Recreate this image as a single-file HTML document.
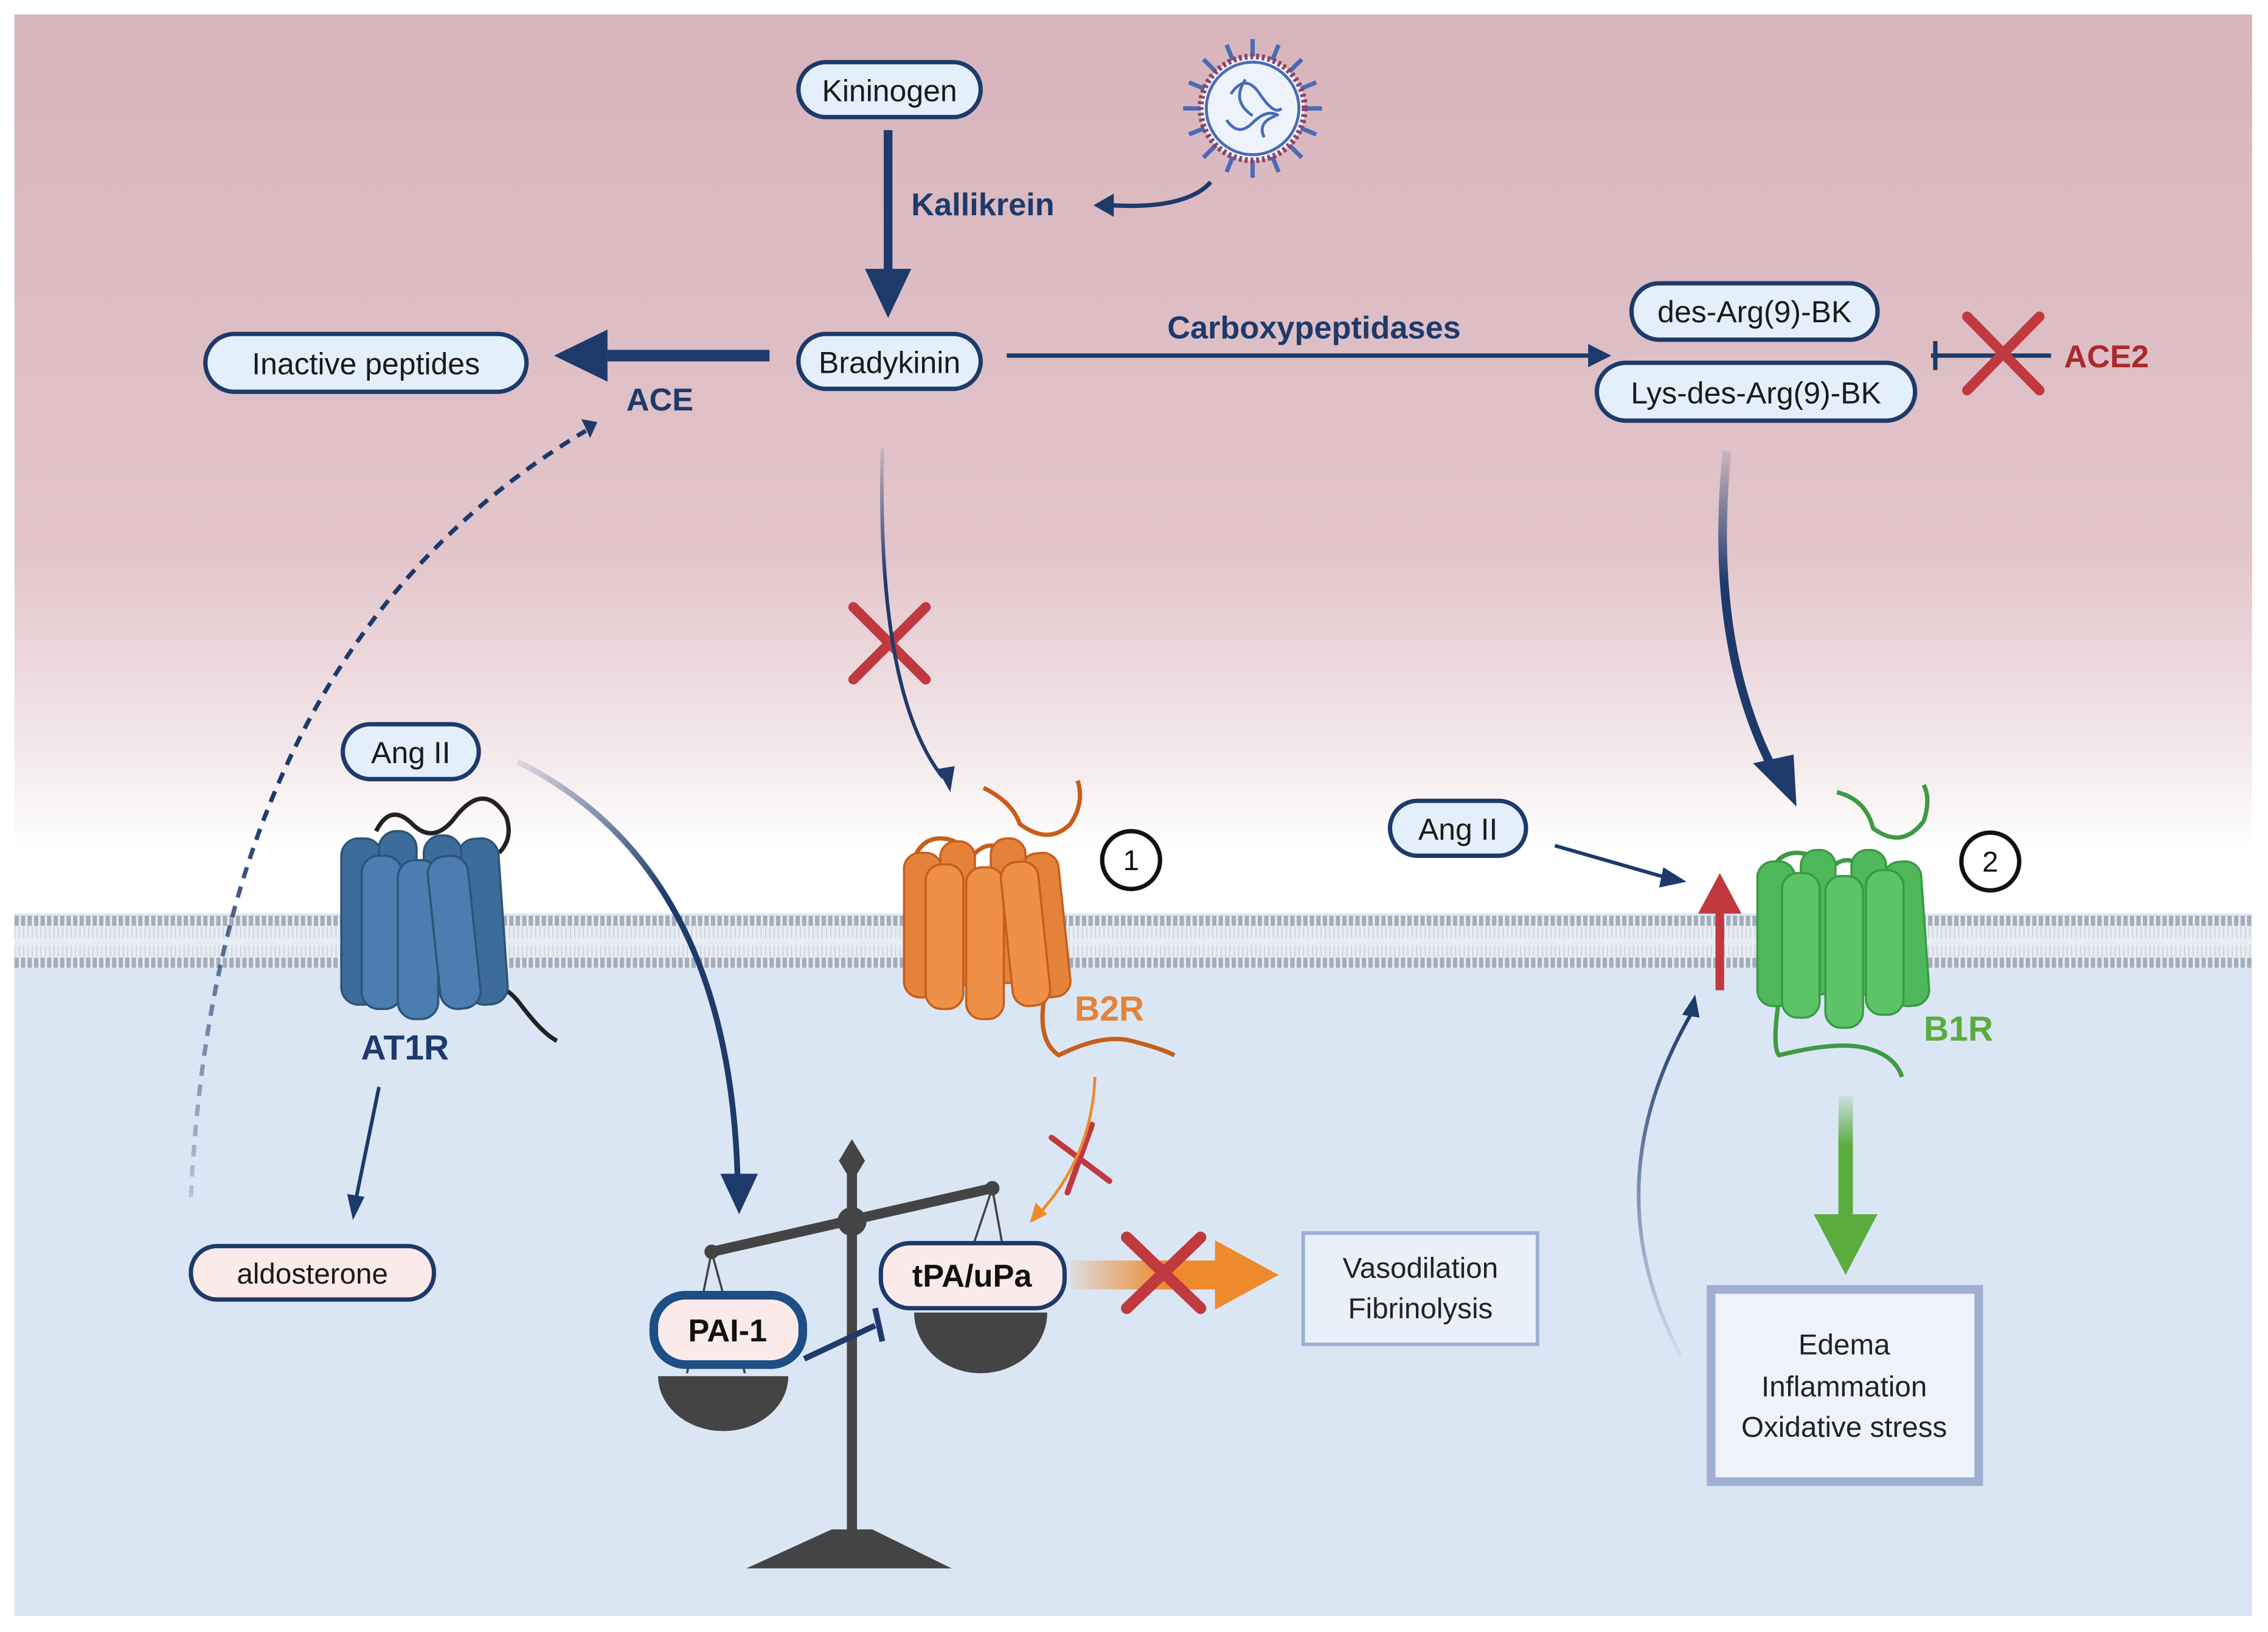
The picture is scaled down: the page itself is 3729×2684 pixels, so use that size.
<!DOCTYPE html>
<html><head><meta charset="utf-8"><style>
html,body{margin:0;padding:0;background:#fff}
svg{display:block}
text{font-family:"Liberation Sans",sans-serif}
</style></head><body>
<svg width="3729" height="2684" viewBox="0 0 1568 1129" preserveAspectRatio="none" xmlns="http://www.w3.org/2000/svg">
<defs>
<linearGradient id="bg" x1="0" y1="0" x2="0" y2="1">
<stop offset="0" stop-color="#d8b4bc"/>
<stop offset="0.6" stop-color="#e2c5cb"/>
<stop offset="0.83" stop-color="#f4eaec"/>
<stop offset="0.93" stop-color="#ffffff"/>
<stop offset="1" stop-color="#ffffff"/>
</linearGradient>
<linearGradient id="fadeL" x1="0" y1="1" x2="0" y2="0"><stop offset="0" stop-color="#1d3a6b" stop-opacity="0.05"/><stop offset="1" stop-color="#1d3a6b"/></linearGradient>
<linearGradient id="dashG" gradientUnits="userSpaceOnUse" x1="0" y1="830" x2="0" y2="290"><stop offset="0" stop-color="#1d3a6b" stop-opacity="0.2"/><stop offset="0.5" stop-color="#1d3a6b"/><stop offset="1" stop-color="#1d3a6b"/></linearGradient>
<linearGradient id="fadeD" x1="0" y1="0" x2="0" y2="1"><stop offset="0" stop-color="#1d3a6b" stop-opacity="0.1"/><stop offset="0.4" stop-color="#1d3a6b"/></linearGradient>
<linearGradient id="fadeG" x1="0" y1="0" x2="0" y2="1"><stop offset="0" stop-color="#5aac3f" stop-opacity="0.1"/><stop offset="0.4" stop-color="#5aac3f"/></linearGradient>
<linearGradient id="fadeO" x1="0" y1="0" x2="1" y2="0"><stop offset="0" stop-color="#ec8a2c" stop-opacity="0.1"/><stop offset="0.6" stop-color="#ec8a2c"/></linearGradient>
<linearGradient id="angG" x1="0" y1="0" x2="1" y2="1"><stop offset="0" stop-color="#1d3a6b" stop-opacity="0.1"/><stop offset="0.5" stop-color="#1d3a6b"/></linearGradient>
</defs>
<rect x="10" y="10" width="1547" height="622" fill="url(#bg)"/>
<rect x="10" y="632" width="1547" height="486" fill="#dbe6f5"/>
<rect x="10" y="634" width="1547" height="36" fill="#e8edf4"/>
<line x1="10" y1="637" x2="1557" y2="637" stroke="#a5adbb" stroke-width="7" stroke-dasharray="3 1.5"/>
<line x1="10" y1="666" x2="1557" y2="666" stroke="#a5adbb" stroke-width="7" stroke-dasharray="3 1.5"/>
<line x1="10" y1="645" x2="1557" y2="645" stroke="#c6ccd6" stroke-width="8" stroke-dasharray="0.6 2.4"/>
<line x1="10" y1="658" x2="1557" y2="658" stroke="#c6ccd6" stroke-width="8" stroke-dasharray="0.6 2.4"/>

<g font-size="21" fill="#1a1a1a" text-anchor="middle">
<rect x="552" y="43" width="126" height="38" rx="19" fill="#e3effa" stroke="#1d3a6b" stroke-width="3"/>
<text x="615" y="70">Kininogen</text>
<rect x="552" y="231" width="126" height="38" rx="19" fill="#e3effa" stroke="#1d3a6b" stroke-width="3"/>
<text x="615" y="258">Bradykinin</text>
<rect x="142" y="231" width="222" height="40" rx="20" fill="#e3effa" stroke="#1d3a6b" stroke-width="3"/>
<text x="253" y="259">Inactive peptides</text>
<rect x="1128" y="196" width="170" height="39" rx="19" fill="#e3effa" stroke="#1d3a6b" stroke-width="3"/>
<text x="1213" y="223">des-Arg(9)-BK</text>
<rect x="1104" y="251" width="220" height="40" rx="20" fill="#e3effa" stroke="#1d3a6b" stroke-width="3"/>
<text x="1214" y="279">Lys-des-Arg(9)-BK</text>
<rect x="237" y="501" width="94" height="38" rx="19" fill="#e3effa" stroke="#1d3a6b" stroke-width="3"/>
<text x="284" y="528">Ang II</text>
<rect x="961" y="554" width="94" height="38" rx="19" fill="#e3effa" stroke="#1d3a6b" stroke-width="3"/>
<text x="1008" y="581">Ang II</text>
<rect x="132" y="862" width="168" height="37" rx="18" fill="#fbeaea" stroke="#1d3a6b" stroke-width="3"/>
<text x="216" y="888" font-size="20">aldosterone</text>
</g>

<g fill="#1d3a6b" stroke="#1d3a6b">
<line x1="614" y1="90" x2="614" y2="190" stroke-width="6"/>
<polygon points="598,186 630,186 614,220" stroke="none"/>
<line x1="532" y1="246" x2="420" y2="246" stroke-width="8"/>
<polygon points="420,228 420,264 383,246" stroke="none"/>
<line x1="696" y1="246" x2="1100" y2="246" stroke-width="3"/>
<polygon points="1098,238 1098,254 1114,246" stroke="none"/>
<path d="M837 126 Q820 145 768 142" fill="none" stroke-width="3"/>
<polygon points="770,134 770,150 756,142" stroke="none"/>
<polygon points="402,290 413,292 408,303" stroke="none"/>
<line x1="1335" y1="246" x2="1418" y2="246" stroke-width="3"/>
<line x1="1338" y1="236" x2="1338" y2="256" stroke-width="3"/>
</g>
<path d="M132 828 Q150 450 405 298" fill="none" stroke="url(#dashG)" stroke-width="3" stroke-dasharray="8 6"/>
<g font-weight="bold" font-size="22" fill="#1d3a6b">
<text x="630" y="149">Kallikrein</text>
<text x="433" y="284">ACE</text>
<text x="807" y="234">Carboxypeptidases</text>
<text x="1427" y="254" fill="#a82a2a">ACE2</text>
</g>

<g transform="translate(866,75)">
<g stroke="#4a6bb5" stroke-width="3">
<line x1="0" y1="-48" x2="0" y2="48"/><line x1="-48" y1="0" x2="48" y2="0"/>
<line x1="-34" y1="-34" x2="34" y2="34"/><line x1="-34" y1="34" x2="34" y2="-34"/>
<line x1="-18" y1="-44" x2="18" y2="44"/><line x1="-44" y1="-18" x2="44" y2="18"/>
<line x1="18" y1="-44" x2="-18" y2="44"/><line x1="-44" y1="18" x2="44" y2="-18"/>
</g>
<circle r="36" fill="#eef3fb" stroke="#8a4466" stroke-width="4" stroke-dasharray="2 2"/>
<circle r="32" fill="#eef3fb" stroke="#4a6bb5" stroke-width="2"/>
<path d="M-15 -10 q10 -15 20 0 t15 10 M-18 8 q8 12 18 2 t18 -5 M-5 -20 q-10 15 5 25 M8 20 q-5 -10 8 -15" fill="none" stroke="#4a6bb5" stroke-width="2"/>
</g>

<g stroke="#c0393f" stroke-width="7" stroke-linecap="round">
<line x1="1360" y1="219" x2="1410" y2="270"/><line x1="1410" y1="219" x2="1360" y2="270"/>
<line x1="590" y1="420" x2="640" y2="470"/><line x1="640" y1="420" x2="590" y2="470"/>
<line x1="727" y1="787" x2="767" y2="817" stroke-width="4"/><line x1="755" y1="778" x2="738" y2="825" stroke-width="4"/>
</g>

<path d="M610 310 Q606 480 652 538" fill="none" stroke="url(#fadeD)" stroke-width="2.5"/>
<polygon points="648,532 660,530 657,548" fill="#1d3a6b"/>
<path d="M1194 312 Q1180 450 1230 540" fill="none" stroke="url(#fadeD)" stroke-width="6"/>
<polygon points="1212,528 1240,522 1242,558" fill="#1d3a6b"/>
<path d="M358 527 Q505 600 510 818" fill="none" stroke="url(#angG)" stroke-width="4"/>
<polygon points="498,812 524,812 511,840" fill="#1d3a6b"/>
<line x1="1075" y1="585" x2="1155" y2="608" stroke="#1d3a6b" stroke-width="2.5"/>
<polygon points="1150,600 1166,610 1147,614" fill="#1d3a6b"/>
<line x1="262" y1="752" x2="246" y2="830" stroke="#1d3a6b" stroke-width="2.5"/>
<polygon points="240,826 252,828 244,844" fill="#1d3a6b"/>
<path d="M1162 938 Q1100 820 1170 700" fill="none" stroke="url(#fadeL)" stroke-width="2.5"/>
<polygon points="1163,702 1175,704 1172,688" fill="#1d3a6b"/>
<line x1="1189" y1="685" x2="1189" y2="625" stroke="#c0393f" stroke-width="6"/>
<polygon points="1174,632 1204,632 1189,604" fill="#c0393f"/>
<path d="M757 745 Q755 800 718 840" fill="none" stroke="#ec8a2c" stroke-width="2"/>
<polygon points="712,846 716,832 724,840" fill="#ec8a2c"/>
<rect x="1271" y="758" width="10" height="86" fill="url(#fadeG)"/>
<polygon points="1254,840 1298,840 1276,882" fill="#5aac3f"/>
<rect x="740" y="872" width="110" height="20" fill="url(#fadeO)"/>
<polygon points="840,858 840,906 884,882" fill="#ec8a2c"/>
<line x1="779" y1="856" x2="830" y2="905" stroke="#c0393f" stroke-width="8" stroke-linecap="round"/><line x1="830" y1="856" x2="779" y2="905" stroke="#c0393f" stroke-width="8" stroke-linecap="round"/>

<g>
<path d="M260 575 q10 -20 25 -5 q15 15 30 -5 q20 -25 35 0 q5 15 -5 25" fill="none" stroke="#222" stroke-width="3"/>
<path d="M335 690 q10 -15 25 5 q15 20 25 25" fill="none" stroke="#222" stroke-width="3"/>
<g fill="#3c6d9a" stroke="#2c5478" stroke-width="1.5">
<rect x="236" y="580" width="28" height="115" rx="12"/>
<rect x="320" y="580" width="28" height="115" rx="12" transform="rotate(-4 334 640)"/>
<rect x="262" y="575" width="26" height="110" rx="12"/>
<rect x="293" y="578" width="26" height="110" rx="12"/>
<rect x="250" y="592" width="28" height="106" rx="12" fill="#4a7eb0"/>
<rect x="275" y="595" width="28" height="110" rx="12" fill="#4a7eb0"/>
<rect x="300" y="592" width="28" height="106" rx="12" fill="#4a7eb0" transform="rotate(-6 314 645)"/>
</g>
<text x="280" y="733" font-size="24" font-weight="bold" fill="#1d3a6b" text-anchor="middle">AT1R</text>
</g>
<g>
<path d="M680 545 q20 10 25 25 q20 15 35 0 q10 -15 5 -30 M630 600 q5 -20 20 -20 q15 0 20 15 q15 -20 30 0" fill="none" stroke="#c65e1c" stroke-width="3"/>
<path d="M722 690 q-5 30 10 40 q30 -15 50 -10 q20 5 30 10" fill="none" stroke="#c65e1c" stroke-width="3"/>
<g fill="#e4823a" stroke="#c65e1c" stroke-width="1.5">
<rect x="625" y="590" width="26" height="100" rx="11"/>
<rect x="710" y="590" width="26" height="100" rx="11" transform="rotate(-6 723 640)"/>
<rect x="650" y="582" width="24" height="100" rx="11"/>
<rect x="685" y="580" width="24" height="100" rx="11"/>
<rect x="640" y="598" width="26" height="100" rx="11" fill="#ee9046"/>
<rect x="668" y="600" width="26" height="105" rx="11" fill="#ee9046"/>
<rect x="696" y="596" width="26" height="100" rx="11" fill="#ee9046" transform="rotate(-6 709 646)"/>
</g>
<text x="743" y="706" font-size="24" font-weight="bold" fill="#e4823a">B2R</text>
</g>
<g>
<path d="M1270 548 q20 5 25 25 q20 15 35 -5 q5 -15 0 -25 M1222 610 q5 -20 20 -20 q15 0 20 15 q15 -20 30 0" fill="none" stroke="#3f9a44" stroke-width="3"/>
<path d="M1230 690 q-5 35 0 40 q40 -10 60 -5 q20 5 25 20" fill="none" stroke="#3f9a44" stroke-width="3"/>
<g fill="#4fb85a" stroke="#3a9a45" stroke-width="1.5">
<rect x="1215" y="596" width="26" height="100" rx="11"/>
<rect x="1305" y="596" width="26" height="100" rx="11" transform="rotate(-4 1318 646)"/>
<rect x="1245" y="588" width="24" height="100" rx="11"/>
<rect x="1280" y="588" width="24" height="100" rx="11"/>
<rect x="1232" y="604" width="26" height="100" rx="11" fill="#5cc466"/>
<rect x="1262" y="606" width="26" height="105" rx="11" fill="#5cc466"/>
<rect x="1290" y="602" width="26" height="100" rx="11" fill="#5cc466"/>
</g>
<text x="1330" y="720" font-size="24" font-weight="bold" fill="#5aac3f">B1R</text>
</g>
<g fill="#fff" stroke="#111" stroke-width="3">
<circle cx="782" cy="595" r="20"/><circle cx="1376" cy="596" r="20"/>
</g>
<g font-size="20" text-anchor="middle" fill="#111"><text x="782" y="602">1</text><text x="1376" y="603">2</text></g>

<g fill="#444" stroke="#444">
<line x1="589" y1="810" x2="589" y2="1060" stroke-width="7"/>
<polygon points="589,788 598,803 589,818 580,803" stroke="none"/>
<polygon points="575,1058 603,1058 658,1085 516,1085" stroke="none"/>
<line x1="492" y1="866" x2="686" y2="822" stroke-width="7"/>
<circle cx="589" cy="845" r="10" stroke="none"/>
<circle cx="492" cy="866" r="5" stroke="none"/><circle cx="686" cy="822" r="5" stroke="none"/>
<line x1="492" y1="866" x2="475" y2="950" stroke-width="1.5"/><line x1="492" y1="866" x2="515" y2="950" stroke-width="1.5"/>
<line x1="686" y1="822" x2="660" y2="900" stroke-width="1.5"/><line x1="686" y1="822" x2="700" y2="900" stroke-width="1.5"/>
<path d="M455 952 H545 A45 38 0 0 1 455 952 Z" stroke="none"/>
<path d="M632 908 H724 A46 42 0 0 1 632 908 Z" stroke="none"/>
</g>
<rect x="452" y="896" width="103" height="48" rx="22" fill="#fbeaea" stroke="#1d4e84" stroke-width="6"/>
<text x="503" y="928" font-size="22" font-weight="bold" text-anchor="middle" fill="#111">PAI-1</text>
<rect x="609" y="860" width="127" height="45" rx="20" fill="#fbeaea" stroke="#1d3a6b" stroke-width="3"/>
<text x="672" y="890" font-size="22" font-weight="bold" text-anchor="middle" fill="#111">tPA/uPa</text>
<line x1="556" y1="940" x2="605" y2="917" stroke="#1d3a6b" stroke-width="4"/>
<line x1="605" y1="905" x2="610" y2="928" stroke="#1d3a6b" stroke-width="4"/>

<rect x="901" y="853" width="162" height="77" fill="#e9f0fa" stroke="#9fb0d4" stroke-width="2.5"/>
<g font-size="20" text-anchor="middle" fill="#222"><text x="982" y="884">Vasodilation</text><text x="982" y="912">Fibrinolysis</text></g>
<rect x="1183" y="892" width="185" height="133" fill="#eef3fb" stroke="#9fb0d4" stroke-width="6"/>
<g font-size="20" text-anchor="middle" fill="#222"><text x="1275" y="937">Edema</text><text x="1275" y="966">Inflammation</text><text x="1275" y="994">Oxidative stress</text></g>
</svg>
</body></html>
